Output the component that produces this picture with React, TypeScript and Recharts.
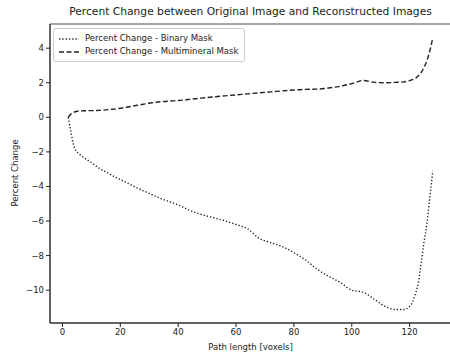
import React from 'react';
import { LineChart, Line, XAxis, YAxis, Label, ReferenceArea } from 'recharts';

// path length in voxels
const pathLength = [2, 3, 4, 6, 8, 10, 13, 16, 19, 22, 25, 28, 31, 34, 37, 40, 44, 48, 52, 56, 60, 64, 68, 72, 76, 80, 84, 88, 92, 96, 100, 104, 108, 112, 115, 118, 120, 121, 122, 123, 124, 125, 126, 127, 128];

const binaryMask = [0.0, -0.9, -1.7, -2.15, -2.4, -2.62, -2.98, -3.25, -3.52, -3.76, -4.02, -4.25, -4.48, -4.7, -4.88, -5.07, -5.38, -5.62, -5.8, -5.98, -6.2, -6.45, -7.0, -7.25, -7.48, -7.83, -8.25, -8.78, -9.2, -9.55, -10.0, -10.12, -10.55, -10.98, -11.12, -11.12, -10.95, -10.7, -10.2, -9.6, -8.4, -7.2, -6.1, -4.6, -3.1];

const multimineralMask = [0.0, 0.2, 0.3, 0.37, 0.38, 0.39, 0.4, 0.45, 0.5, 0.58, 0.67, 0.76, 0.84, 0.9, 0.94, 0.97, 1.04, 1.11, 1.18, 1.24, 1.3, 1.36, 1.42, 1.47, 1.53, 1.58, 1.62, 1.63, 1.7, 1.8, 1.95, 2.13, 2.02, 2.0, 2.02, 2.05, 2.12, 2.18, 2.25, 2.4, 2.6, 2.9, 3.3, 3.85, 4.6];

const xTicks = [0, 20, 40, 60, 80, 100, 120];
const yTicks = [-10, -8, -6, -4, -2, 0, 2, 4];

const data = pathLength.map((x, i) => ({
    x,
    binary: binaryMask[i],
    multi: multimineralMask[i],
}));

const FONT = '"DejaVu Sans", sans-serif';
const INK = '#222';
const X_DOMAIN: [number, number] = [-4.3, 134.3];
const Y_DOMAIN: [number, number] = [-11.9, 5.4];

const fmt = (v: number) => (v < 0 ? '\u2212' + Math.abs(v) : String(v));

const LegendBox = () => (
    <div style={{
        position: 'absolute', left: 53, top: 28,
        border: '1px solid #ccc', borderRadius: 3, background: 'rgba(255,255,255,0.8)',
        padding: '3px 6px 3px 4px', fontFamily: FONT, fontSize: 8.5, color: INK, lineHeight: '13px',
    }}>
        <div style={{ display: 'flex', alignItems: 'center' }}>
            <svg width={22} height={10}><line x1={1} y1={5} x2={21} y2={5} stroke={INK} strokeWidth={1.4} strokeDasharray="1.3 2" /></svg>
            <span style={{ marginLeft: 5 }}>Percent Change - Binary Mask</span>
        </div>
        <div style={{ display: 'flex', alignItems: 'center' }}>
            <svg width={22} height={10}><line x1={1} y1={5} x2={21} y2={5} stroke={INK} strokeWidth={1.4} strokeDasharray="5 2.5" /></svg>
            <span style={{ marginLeft: 5 }}>Percent Change - Multimineral Mask</span>
        </div>
    </div>
);

export default function App() {
    return (
        <div style={{ position: 'relative', width: 450, height: 352, overflow: 'hidden', background: '#fff' }}>
            <style>{'body{margin:0}'}</style>
            <div style={{
                position: 'absolute', left: 0, top: 5, width: 501, textAlign: 'center',
                fontFamily: FONT, fontSize: 10.7, color: INK,
            }}>
                Percent Change between Original Image and Reconstructed Images
            </div>
            <LineChart width={460} height={352} data={data} margin={{ top: 24, right: 9, bottom: 0, left: 0 }}>
                <ReferenceArea x1={X_DOMAIN[0]} x2={X_DOMAIN[1]} y1={Y_DOMAIN[0]} y2={Y_DOMAIN[1]}
                    fill="none" stroke={INK} strokeWidth={0.8} strokeOpacity={1} fillOpacity={0} />
                <XAxis dataKey="x" type="number" domain={X_DOMAIN} ticks={xTicks} allowDataOverflow
                    tickFormatter={fmt} tickSize={4} tickMargin={2} height={29}
                    stroke={INK} tick={{ fontFamily: FONT, fontSize: 8.5, fill: INK }}>
                    <Label value="Path length [voxels]" position="insideBottom" offset={2}
                        style={{ fontFamily: FONT, fontSize: 8.5, fill: INK }} />
                </XAxis>
                <YAxis type="number" domain={Y_DOMAIN} ticks={yTicks} allowDataOverflow
                    tickFormatter={fmt} tickSize={4} tickMargin={2} width={50}
                    stroke={INK} tick={{ fontFamily: FONT, fontSize: 8.5, fill: INK }}>
                    <Label content={() => (
                        <text x={15} y={173} transform="rotate(-90 15 173)" textAnchor="middle"
                            dominantBaseline="central" fontFamily={FONT} fontSize={8.5} fill={INK}>
                            Percent Change
                        </text>
                    )} />
                </YAxis>
                <Line type="monotone" dataKey="binary" stroke={INK} strokeWidth={1.4}
                    strokeDasharray="1.3 2" dot={false} isAnimationActive={false} />
                <Line type="monotone" dataKey="multi" stroke={INK} strokeWidth={1.4}
                    strokeDasharray="5 2.5" dot={false} isAnimationActive={false} />
            </LineChart>
            <LegendBox />
        </div>
    );
}
